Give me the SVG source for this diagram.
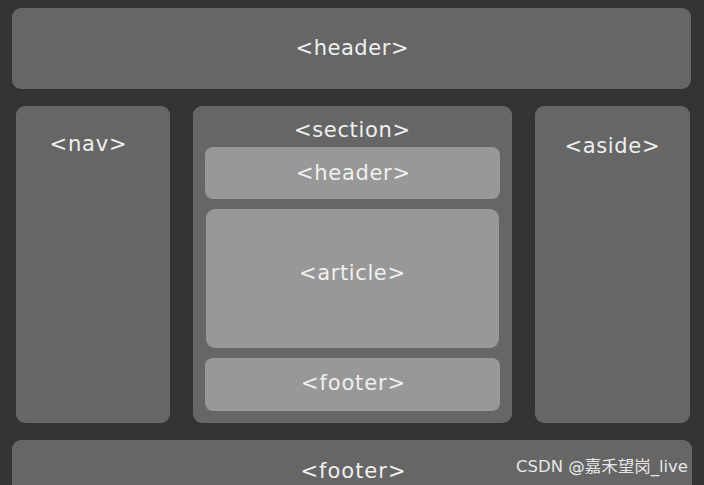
<svg xmlns="http://www.w3.org/2000/svg" width="704" height="485" viewBox="0 0 704 485">
<style>
.outer{fill:#666666}
.inner{fill:#989898}
.lbl{font-family:"DejaVu Sans",sans-serif;font-size:21px;fill:#f0f0f0;text-anchor:middle}
.wm{font-family:"DejaVu Sans","Noto Sans CJK SC",sans-serif;font-size:16px;fill:#e6e6e6}
</style>
<rect x="0" y="0" width="704" height="485" fill="#333333"/>
<g id="header">
<rect class="outer" x="12" y="8" width="679" height="81" rx="9"/>
<text class="lbl" x="352" y="55" textLength="113" lengthAdjust="spacing">&lt;header&gt;</text>
</g>
<g id="nav">
<rect class="outer" x="16" y="106" width="154" height="317" rx="9"/>
<text class="lbl" x="88" y="151" textLength="77" lengthAdjust="spacing">&lt;nav&gt;</text>
</g>
<g id="section">
<rect class="outer" x="193" y="106" width="319" height="317" rx="9"/>
<text class="lbl" x="352" y="137" textLength="116" lengthAdjust="spacing">&lt;section&gt;</text>
</g>
<g id="section-header">
<rect class="inner" x="205" y="147" width="295" height="52" rx="8"/>
<text class="lbl" x="353" y="180" textLength="114" lengthAdjust="spacing">&lt;header&gt;</text>
</g>
<g id="article">
<rect class="inner" x="206" y="209" width="293" height="139" rx="9"/>
<text class="lbl" x="352" y="280" textLength="106" lengthAdjust="spacing">&lt;article&gt;</text>
</g>
<g id="section-footer">
<rect class="inner" x="205" y="358" width="295" height="53" rx="8"/>
<text class="lbl" x="353" y="390" textLength="104" lengthAdjust="spacing">&lt;footer&gt;</text>
</g>
<g id="aside">
<rect class="outer" x="535" y="106" width="155" height="317" rx="9"/>
<text class="lbl" x="612" y="153" textLength="95" lengthAdjust="spacing">&lt;aside&gt;</text>
</g>
<g id="footer">
<rect class="outer" x="12" y="440" width="680" height="60" rx="9"/>
<text class="lbl" x="353" y="478" textLength="105" lengthAdjust="spacing">&lt;footer&gt;</text>
</g>
<g id="connectors"/>
<text class="wm" x="516" y="472" textLength="172" lengthAdjust="spacingAndGlyphs">CSDN @嘉禾望岗_live</text>
</svg>
